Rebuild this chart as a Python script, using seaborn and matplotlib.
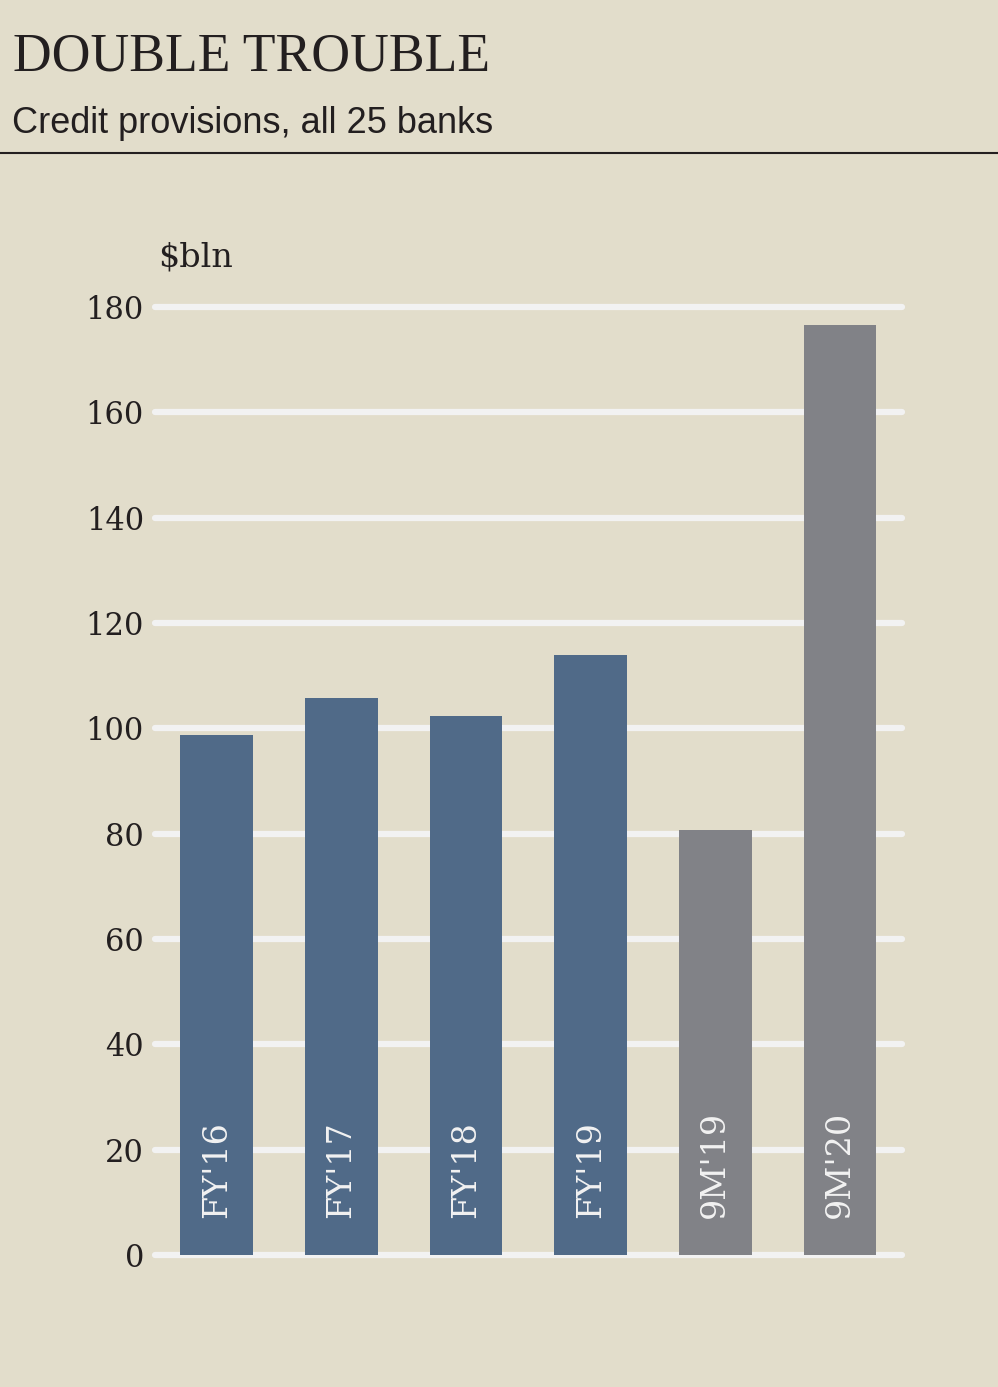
import pandas as pd
import numpy as np
import seaborn as sns
import matplotlib.pyplot as plt

# data
periods = ["FY'16", "FY'17", "FY'18", "FY'19", "9M'19", "9M'20"]
provisions = [98.8, 105.8, 102.3, 113.9, 80.7, 176.5]
kind = ["FY", "FY", "FY", "FY", "9M", "9M"]
yticks = [0, 20, 40, 60, 80, 100, 120, 140, 160, 180]

df = pd.DataFrame({"period": periods, "value": provisions, "kind": kind})

bg = "#e2ddcb"
colors = {"FY": "#506a88", "9M": "#818287"}

sns.set_style("white")
plt.rcParams["font.family"] = ["DejaVu Sans"]

fig = plt.figure(figsize=(9.98, 13.87), dpi=100, facecolor=bg)
ax = fig.add_axes([0.1553, 0.0952, 0.7485, 0.6835])
ax.set_facecolor(bg)

for t in yticks:
    ax.axhline(t, color="#f2f2f2", lw=4.5, solid_capstyle="round", zorder=0, clip_on=False)

sns.barplot(data=df, x="period", y="value", hue="kind", palette=colors,
            width=0.585, dodge=False, legend=False, ax=ax, zorder=2,
            saturation=1, linewidth=0)

ax.set_xlim(-0.495, 5.497)
ax.set_ylim(0, 180)
ax.set_yticks(yticks)
ax.set_yticklabels([str(t) for t in yticks], family="DejaVu Serif", fontsize=22, color="#231f20")
ax.tick_params(axis="y", length=0, pad=8)
ax.set_xticks([])
ax.set_xlabel("")
ax.set_ylabel("")
for s in ax.spines.values():
    s.set_visible(False)

for i, p in enumerate(periods):
    ax.text(i, 7, p, rotation=90, ha="center", va="bottom", color="#f2f2f2",
            family="DejaVu Serif", fontsize=24, zorder=3)

fig.text(0.013, 0.959, "DOUBLE TROUBLE", family="Liberation Serif", fontsize=38.6,
         color="#231f20", va="center", ha="left")
fig.text(0.012, 0.911, "Credit provisions, all 25 banks", family="Liberation Sans",
         fontsize=26, color="#231f20", va="center", ha="left")
fig.add_artist(plt.Line2D([0, 1], [0.8897, 0.8897], color="#231f20", lw=1.5,
                          transform=fig.transFigure))
fig.text(0.158, 0.8145, "$bln", family="DejaVu Serif", fontsize=24,
         color="#231f20", va="center", ha="left")

fig.savefig("out.png", dpi=100, facecolor=bg)
